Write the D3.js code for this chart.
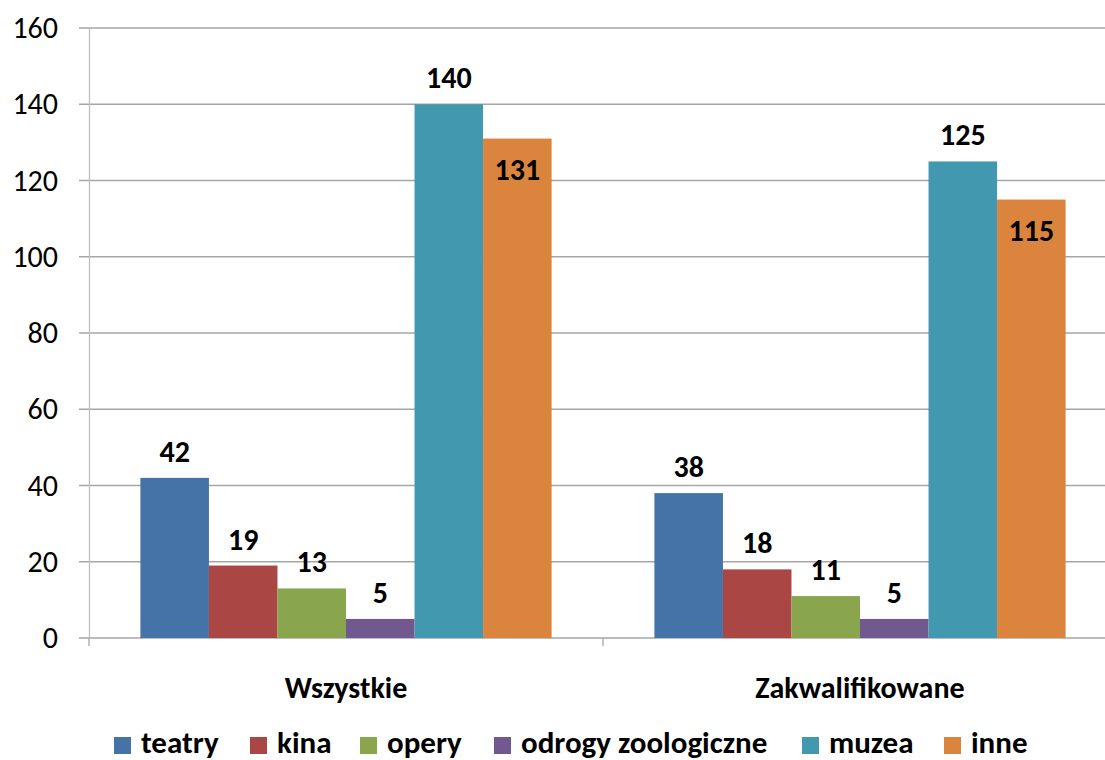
<!DOCTYPE html>
<html><head><meta charset="utf-8">
<script src="https://cdn.jsdelivr.net/npm/d3@7"></script>
<style>body{margin:0;background:#fff}svg{display:block}text{font-family:Carlito,Lato,"Liberation Sans",sans-serif}</style>
</head><body><svg id="c" width="1105" height="760"></svg>
<script>
const categories = ["Wszystkie", "Zakwalifikowane"];
const seriesNames = ["teatry", "kina", "opery", "odrogy zoologiczne", "muzea", "inne"];
const teatry = [42, 38];
const kina = [19, 18];
const opery = [13, 11];
const zoo = [5, 5];
const muzea = [140, 125];
const inne = [131, 115];
const colors = ["#4572A7", "#AA4643", "#89A54E", "#71588F", "#4198AF", "#DB843D"];
const yTicks = [0, 20, 40, 60, 80, 100, 120, 140, 160];
const insideLabelSeries = ["inne"];

const seriesVals = [teatry, kina, opery, zoo, muzea, inne];
const svg = d3.select("#c");
const L = 89, R = 1117, T = 28, B = 638;

const x0 = d3.scaleBand().domain(categories).range([L, R]).paddingInner(0.2).paddingOuter(0.1);
const x1 = d3.scaleBand().domain(seriesNames).range([0, x0.bandwidth()]);
const y = d3.scaleLinear().domain([0, 160]).range([B, T]);

// gridlines
svg.append("g").selectAll("line").data(yTicks).join("line")
  .attr("x1", L - 10).attr("x2", 1105).attr("y1", d => y(d)).attr("y2", d => y(d))
  .attr("stroke", "#a6a6a6").attr("stroke-width", 1.3);

// y axis
const yAxis = svg.append("g").attr("transform", `translate(${L},0)`)
  .call(d3.axisLeft(y).tickValues(yTicks).tickSize(0).tickPadding(31));
yAxis.select(".domain").attr("stroke", "#bfbfbf").attr("stroke-width", 1.3);
yAxis.selectAll("text").attr("font-size", 30).attr("fill", "#000").attr("font-family", "Carlito,Lato,sans-serif");

// category dividers
const divs = [L, (x0(categories[0]) + x0.bandwidth() + x0(categories[1])) / 2];
svg.append("g").selectAll("line").data(divs).join("line")
  .attr("x1", d => d).attr("x2", d => d).attr("y1", B).attr("y2", B + 8)
  .attr("stroke", "#a6a6a6").attr("stroke-width", 1.3);

// bars
const bars = [];
categories.forEach((c, ci) => seriesNames.forEach((s, si) => bars.push({c, s, si, v: seriesVals[si][ci]})));
svg.append("g").selectAll("rect").data(bars).join("rect")
  .attr("x", d => x0(d.c) + x1(d.s)).attr("width", x1.bandwidth())
  .attr("y", d => y(d.v)).attr("height", d => y(0) - y(d.v))
  .attr("fill", d => colors[d.si]);

// value labels
svg.append("g").selectAll("text").data(bars).join("text")
  .attr("x", d => x0(d.c) + x1(d.s) + x1.bandwidth() / 2)
  .attr("y", d => insideLabelSeries.includes(d.s) ? y(d.v) + 41 : y(d.v) - 16)
  .attr("text-anchor", "middle").attr("font-size", 30).attr("font-weight", "bold")
  .text(d => d.v);

// category labels
svg.append("g").selectAll("text").data(categories).join("text")
  .attr("x", d => x0(d) + x0.bandwidth() / 2).attr("y", 698)
  .attr("text-anchor", "middle").attr("font-size", 30).attr("font-weight", "bold")
  .text(d => d);

// legend
const legX = [114, 250, 360, 494, 802, 944];
const lg = svg.append("g").selectAll("g").data(seriesNames).join("g")
  .attr("transform", (d, i) => `translate(${legX[i]},737)`);
lg.append("rect").attr("x", 0).attr("y", 0).attr("width", 17).attr("height", 17)
  .attr("fill", (d, i) => colors[i]);
lg.append("text").attr("x", 27).attr("y", 16).attr("font-size", 31).attr("font-weight", "bold").text(d => d);
</script></body></html>
